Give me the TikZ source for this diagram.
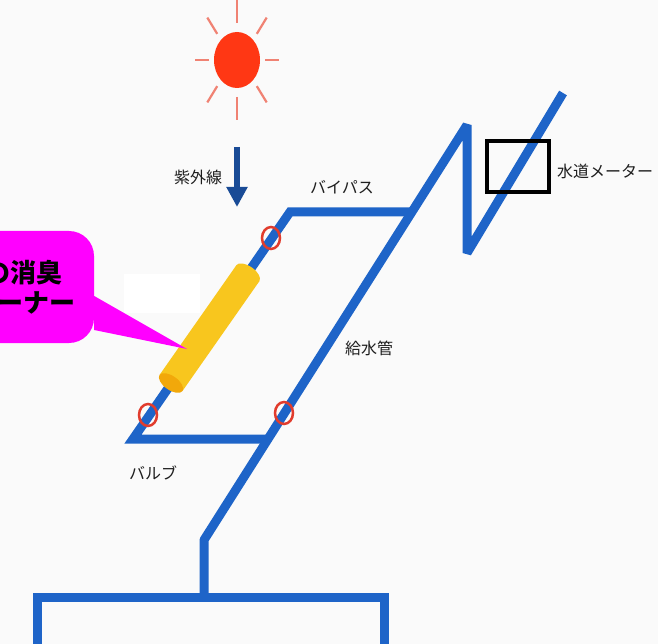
\documentclass[tikz,border=0pt]{standalone}
\usepackage{fontspec}
\newfontfamily\jp{Noto Sans CJK JP}
\usetikzlibrary{shapes.geometric, arrows.meta, positioning}
\definecolor{pipeblue}{RGB}{30,100,200}
\definecolor{uvblue}{RGB}{25,75,150}
\definecolor{sunred}{RGB}{255,55,20}
\definecolor{rayred}{RGB}{240,130,115}
\definecolor{valvered}{RGB}{225,60,45}
\definecolor{tubeyellow}{RGB}{248,198,30}
\definecolor{tubeend}{RGB}{242,168,10}
\definecolor{labelgray}{RGB}{30,30,30}
\definecolor{balloonpink}{RGB}{255,0,255}
\tikzstyle{pipe} = [draw=pipeblue, line width=9pt, line join=miter]
\tikzstyle{valve} = [draw=valvered, line width=2.5pt, ellipse, minimum width=18pt, minimum height=22pt, inner sep=0pt]
\tikzstyle{lbl} = [text=labelgray, font=\jp\fontsize{16}{16}\selectfont, inner sep=0pt]
\tikzstyle{ray} = [draw=rayred, line width=2.2pt]
\tikzstyle{uvarrow} = [draw=uvblue, line width=6pt, -{Triangle[length=20pt,width=20pt]}]
\tikzstyle{balloon} = [fill=balloonpink, rounded corners=25pt, minimum width=166pt, minimum height=112pt, align=center, font=\jp\bfseries\fontsize{26}{30}\selectfont]

\begin{document}
\begin{tikzpicture}[x=1pt, y=-1pt]
	\useasboundingbox (0,0) rectangle (658,644);
	\clip (0,0) rectangle (658,644);
	\fill[gray!4] (0,0) rectangle (658,644);

	% sun and its rays
	\coordinate (sun) at (237,60);
	\fill[sunred] (sun) ellipse (23 and 28);
	\foreach \a in {0,45,...,315}
		\draw[ray, shift={(sun)}] ({28*cos(\a)},{37*sin(\a)}) -- ({42*cos(\a)},{60*sin(\a)});

	% ultraviolet arrow
	\coordinate (uvTop) at (237,147);
	\coordinate (uvTip) at (237,207);
	\draw[uvarrow] (uvTop) -- (uvTip);
	\node[lbl] (uv) at (198,177) {紫外線};

	% tank
	\coordinate (tankL) at (37,660);
	\coordinate (tankLT) at (37,597);
	\coordinate (tankRT) at (384,597);
	\coordinate (tankR) at (384,660);
	\draw[pipe] (tankL) -- (tankLT) -- (tankRT) -- (tankR);

	% supply pipe up to the meter
	\coordinate (feed) at (204,597);
	\coordinate (kink) at (204,540);
	\coordinate (zTop) at (467,125);
	\coordinate (zBot) at (467,253);
	\coordinate (mOut) at (563,93);
	\draw[pipe, line join=bevel] (feed) -- (kink) -- (zTop) -- (zBot) -- (mOut);

	% bypass branch
	\coordinate (lowJ) at (268,439);
	\coordinate (bend) at (133,439);
	\coordinate (bypassL) at (290,212);
	\coordinate (bypassJ) at (411,212);
	\draw[pipe] (lowJ) -- (bend) -- (bypassL) -- (bypassJ);

	% cleaner tube
	\begin{scope}[shift={(171,383)}, rotate=55]
		\fill[tubeyellow] (0,-14) rectangle (134,14);
		\fill[tubeyellow] (134,0) ellipse (7 and 14);
		\fill[tubeend] (0,0) ellipse (7 and 14);
	\end{scope}

	% valves
	\node[valve] (valveTop) at (271,238) {};
	\node[valve] (valveLow) at (148,415) {};
	\node[valve] (valveMain) at (284,413) {};

	% meter
	\node[draw, line width=3.5pt, minimum width=62pt, minimum height=51pt] (meter) at (518,166.5) {};
	\node[lbl, anchor=west] (meterLbl) at (557,171) {水道メーター};

	\node[lbl] (bypassLbl) at (342,187) {バイパス};
	\node[lbl] (supplyLbl) at (369,348) {給水管};
	\node[lbl] (valveLbl) at (153,473) {バルブ};

	% callout
	\fill[white] (124,274) rectangle (200,313);
	\node[balloon] (cleaner) at (11,287) {水の消臭\\クリーナー};
	\fill[balloonpink] ([yshift=-9pt]cleaner.east) -- (187,349) -- ([yshift=-43pt]cleaner.east) -- cycle;
\end{tikzpicture}
\end{document}
